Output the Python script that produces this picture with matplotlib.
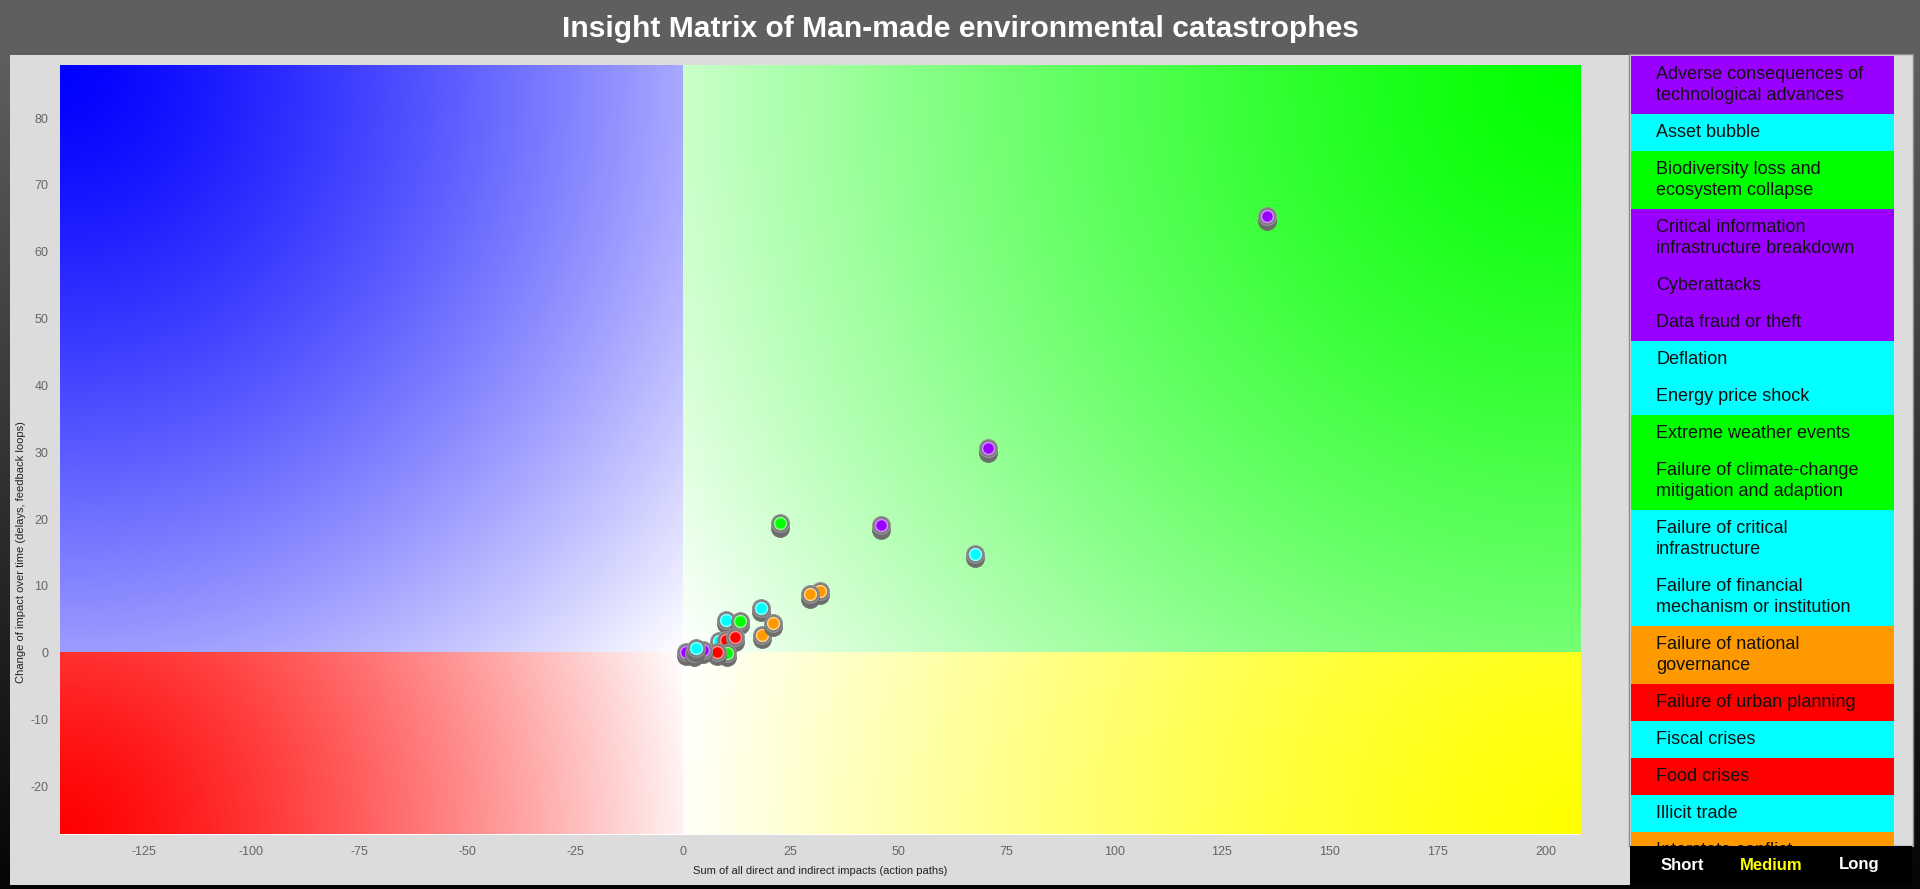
import textwrap
import numpy as np
import matplotlib
matplotlib.use('Agg')
import matplotlib.pyplot as plt
from matplotlib.patches import Rectangle
from matplotlib.colors import to_rgb
from matplotlib.transforms import offset_copy

plt.rcParams['font.family'] = ['Liberation Sans', 'DejaVu Sans']
plt.rcParams['axes.unicode_minus'] = False

## -------------------------------- data --------------------------------
title = 'Insight Matrix of Man-made environmental catastrophes'
x_label = 'Sum of all direct and indirect impacts (action paths)'
y_label = 'Change of impact over time (delays, feedback loops)'

group_colors = {
    'Technological': '#9900ff',
    'Economic': '#00ffff',
    'Environmental': '#00ff00',
    'Geopolitical': '#ff9900',
    'Societal': '#ff0000',
}

# points, in drawing order (last one on top)
risk_x = [135.5, 70.8, 46.0, 67.7, 22.5, 31.8, 29.6, 18.1, 18.4, 20.9,
          9.9, 13.2, 8.35, 10.0, 12.05, 10.3, 8.0, 0.85, 4.7, 2.5, 3.0]
risk_y = [65.3, 30.6, 19.1, 14.8, 19.4, 9.3, 8.75, 6.75, 2.65, 4.5,
          4.9, 4.75, 1.75, 1.9, 2.3, 0.0, 0.1, 0.15, 0.4, 0.0, 0.75]
risk_group = ['Technological', 'Technological', 'Technological', 'Economic', 'Environmental',
              'Geopolitical', 'Geopolitical', 'Economic', 'Geopolitical', 'Geopolitical',
              'Economic', 'Environmental', 'Economic', 'Societal', 'Societal',
              'Environmental', 'Societal', 'Technological', 'Technological', 'Environmental',
              'Economic']

legend_labels = [
    'Adverse consequences of technological advances',
    'Asset bubble',
    'Biodiversity loss and ecosystem collapse',
    'Critical information infrastructure breakdown',
    'Cyberattacks',
    'Data fraud or theft',
    'Deflation',
    'Energy price shock',
    'Extreme weather events',
    'Failure of climate-change mitigation and adaption',
    'Failure of critical infrastructure',
    'Failure of financial mechanism or institution',
    'Failure of national governance',
    'Failure of urban planning',
    'Fiscal crises',
    'Food crises',
    'Illicit trade',
    'Interstate conflict',
]
legend_groups = ['Technological', 'Economic', 'Environmental', 'Technological', 'Technological',
                 'Technological', 'Economic', 'Economic', 'Environmental', 'Environmental',
                 'Economic', 'Economic', 'Geopolitical', 'Societal', 'Economic',
                 'Societal', 'Economic', 'Geopolitical']

x_ticks = [-125, -100, -75, -50, -25, 0, 25, 50, 75, 100, 125, 150, 175, 200]
y_ticks = [-20, -10, 0, 10, 20, 30, 40, 50, 60, 70, 80]
x_range = (-144.5, 208.0)
y_range = (-27.2, 88.0)

time_buttons = ['Short', 'Medium', 'Long']
active_button = 'Medium'

## -------------------------------- layout --------------------------------
W, H = 1920, 889
fig = plt.figure(figsize=(W / 100, H / 100), dpi=100)


def px_axes(left, top, right, bottom):
    '''add an axes given in pixel coords (origin top-left)'''
    return fig.add_axes([left / W, 1 - bottom / H, (right - left) / W, (bottom - top) / H])


# background: dark vertical gradient
bg = fig.add_axes([0, 0, 1, 1])
bg.set_xlim(0, W)
bg.set_ylim(H, 0)
bg.axis('off')
rows = np.arange(H)
shade = 0x5a / 255 * (1 - np.clip((rows - 50) / (H - 50), 0, 1)) + 0.02
bg_img = np.repeat(shade[:, None], 2, axis=1)
bg.imshow(np.dstack([bg_img] * 3), extent=(0, W, H, 0), aspect='auto', zorder=0)

bg.add_patch(Rectangle((10, 55), 1620, 830, fc='#dcdcdc', ec='none', zorder=1))
bg.add_patch(Rectangle((1629, 54), 284, 792, fc='#dcdcdc', ec='#8a8a8a', lw=1, zorder=1))
bg.add_patch(Rectangle((1630, 846), 282, 39, fc='black', ec='none', zorder=2))

bg.text(960, 29, title, color='white', fontsize=21.6, fontweight='bold',
        ha='center', va='center', zorder=3)

## -------------------------------- matrix --------------------------------
ax_l, ax_t, ax_r, ax_b = 59.5, 64.7, 1580, 834.5
ax = px_axes(ax_l, ax_t, ax_r, ax_b)
sx = (ax_r - ax_l) / (x_range[1] - x_range[0])  # px per unit
sy = (ax_b - ax_t) / (y_range[1] - y_range[0])


def quadrant(x0, x1, y0, y1, corner, color):
    '''fill one quadrant, fading from color at the far corner to white at origin'''
    X, Y = np.meshgrid(np.linspace(x0, x1, 500), np.linspace(y0, y1, 300))
    cx, cy = corner
    d = np.hypot((X - cx) * sx, (Y - cy) * sy)
    diag = np.hypot(cx * sx, cy * sy)
    t = np.clip(1 - (d / diag) ** 1.3, 0, 1)
    rgb = np.array(to_rgb(color))
    img = 1 - t[..., None] * (1 - rgb)
    ax.imshow(img, extent=(x0, x1, y0, y1), origin='lower', aspect='auto',
              interpolation='bilinear', zorder=0)


xmin, xmax = x_range
ymin, ymax = y_range
quadrant(xmin, 0, 0, ymax, (xmin, ymax), '#0000ff')
quadrant(0, xmax, 0, ymax, (xmax, ymax), '#00ff00')
quadrant(xmin, 0, ymin, 0, (xmin, ymin), '#ff0000')
quadrant(0, xmax, ymin, 0, (xmax, ymin), '#ffff00')

shadow_tr = offset_copy(ax.transData, fig=fig, x=0, y=-4.4, units='dots')
for i, (x, y, g) in enumerate(zip(risk_x, risk_y, risk_group)):
    c = np.array(to_rgb(group_colors[g]))
    rim = 1 - 0.45 * (1 - c)
    z = 3 + i * 0.01
    ax.plot(x, y, 'o', ms=13, mfc='#6c6c6c', mec='#6c6c6c', mew=0.5,
            transform=shadow_tr, zorder=z)
    ax.plot(x, y, 'o', ms=12.8, mfc='#7a7a7a', mec='#959595', mew=0.8, zorder=z + 0.003)
    ax.plot(x, y, 'o', ms=8.6, mfc=c, mec=rim, mew=1.1, zorder=z + 0.006)

ax.set_xlim(x_range)
ax.set_ylim(y_range)
ax.set_xticks(x_ticks)
ax.set_yticks(y_ticks)
ax.tick_params(length=0, labelcolor='#666666', labelsize=9, pad=8)
for s in ax.spines.values():
    s.set_visible(False)

ax.set_xlabel(x_label, fontsize=8, color='#222222')
ax.xaxis.set_label_coords(0.5, -(870.6 - ax_b) / (ax_b - ax_t))
ax.xaxis.label.set_va('center')
ax.set_ylabel(y_label, fontsize=8, color='#222222')
ax.yaxis.set_label_coords((21 - ax_l) / (ax_r - ax_l), (ax_b - 552) / (ax_b - ax_t))
ax.yaxis.label.set_va('center')

## -------------------------------- legend --------------------------------
lg_l, lg_t, lg_r, lg_b = 1631, 56, 1894, 845.7
lg = px_axes(lg_l, lg_t, lg_r, lg_b)
lg.set_xlim(0, lg_r - lg_l)
lg.set_ylim(lg_b - lg_t, 0)
lg.axis('off')

y_pos = 0
for label, g in zip(legend_labels, legend_groups):
    wrapped = textwrap.fill(label, width=26)
    n = wrapped.count('\n') + 1
    h = 37 + 21 * (n - 1)
    lg.add_patch(Rectangle((0, y_pos), lg_r - lg_l, h, fc=group_colors[g], ec='none'))
    lg.text(25, y_pos + h / 2, wrapped, fontsize=13, color='#111111', va='center',
            ha='left', linespacing=1.32, clip_on=True)
    y_pos += h

button_x = [1682, 1771, 1859]
for bx, name in zip(button_x, time_buttons):
    bg.text(bx, 865, name, color='#ffff00' if name == active_button else 'white',
            fontsize=12, fontweight='bold', ha='center', va='center', zorder=3)

fig.savefig('out.png', dpi=100)
